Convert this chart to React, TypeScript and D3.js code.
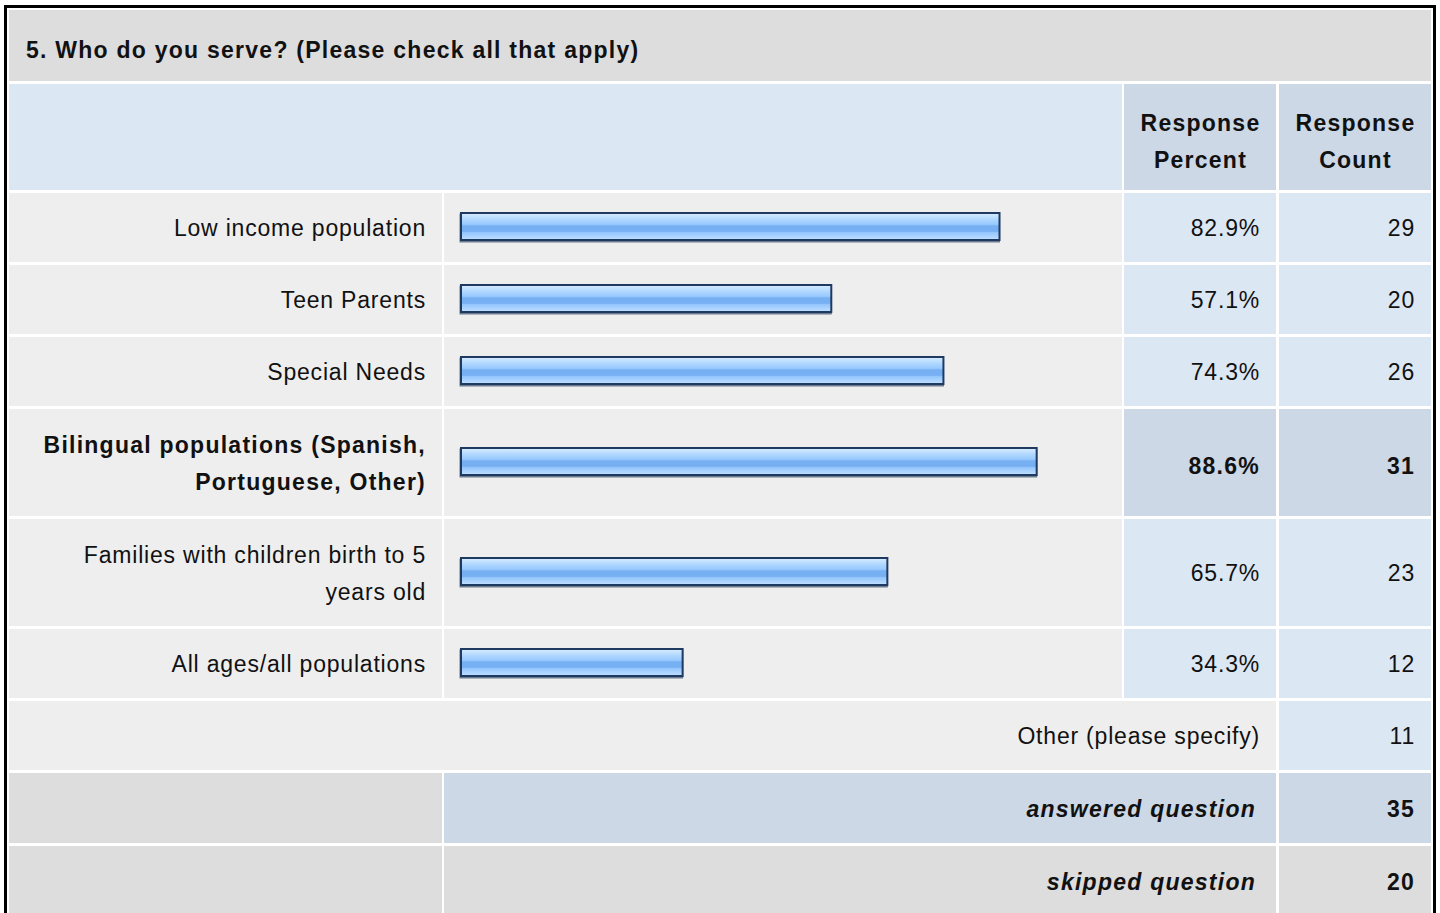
import React, { useEffect, useRef } from 'react'
import * as d3 from 'd3'

const title = '5. Who do you serve? (Please check all that apply)'
const headers = [['Response', 'Percent'], ['Response', 'Count']]
const answerLabels = [
  ['Low income population'],
  ['Teen Parents'],
  ['Special Needs'],
  ['Bilingual populations (Spanish,', 'Portuguese, Other)'],
  ['Families with children birth to 5', 'years old'],
  ['All ages/all populations'],
]
const percents = [82.9, 57.1, 74.3, 88.6, 65.7, 34.3]
const counts = [29, 20, 26, 31, 23, 12]
const otherLabel = 'Other (please specify)'
const otherCount = 11
const answeredCount = 35
const skippedCount = 20

const FONT = '"Liberation Sans", Arial, Helvetica, sans-serif'

export default function App() {
  const svgRef = useRef<SVGSVGElement>(null)

  useEffect(() => {
    const W = 1440, H = 913
    const svg = d3.select(svgRef.current)
    svg.selectAll('*').remove()
    svg.attr('width', W).attr('height', H)

    // column edges
    const c0 = [9, 442], c1 = [444, 1122], c2 = [1124, 1276], c3 = [1279, 1431]
    const gap = 3
    const single = 69, dbl = 107

    const x = d3.scaleLinear().domain([0, 100]).range([460, 1112])

    const defs = svg.append('defs')
    const grad = defs.append('linearGradient').attr('id', 'barGrad')
      .attr('x1', 0).attr('x2', 0).attr('y1', 0).attr('y2', 1)
    const stops: [number, string][] = [
      [0, '#d8ecff'], [0.12, '#c4e2ff'], [0.25, '#aed6ff'], [0.42, '#98c9ff'],
      [0.48, '#76aff2'], [0.68, '#76aff2'], [0.72, '#94c5fc'], [0.86, '#aad3ff'], [1, '#c2e0ff'],
    ]
    stops.forEach(([o, c]) => grad.append('stop').attr('offset', o).attr('stop-color', c))

    svg.append('rect').attr('width', W).attr('height', H).attr('fill', '#fff')

    const cell = (x0: number, x1: number, y0: number, y1: number, fill: string) =>
      svg.append('rect').attr('x', x0).attr('y', y0)
        .attr('width', x1 - x0).attr('height', y1 - y0).attr('fill', fill)

    const text = (t: string, xx: number, yy: number, anchor: string, bold = false, italic = false) =>
      svg.append('text').attr('x', xx).attr('y', yy)
        .attr('text-anchor', anchor)
        .style('font-family', FONT)
        .style('font-size', '23px')
        .style('font-weight', bold ? 'bold' : 'normal')
        .style('font-style', italic ? 'italic' : 'normal')
        .style('letter-spacing', bold ? '1.25px' : '0.8px')
        .attr('fill', '#111')
        .text(t)

    // title row
    cell(c0[0], c3[1], 10, 81, '#dddddd')
    text(title, 26, 57.5, 'start', true)

    // header row
    const hy0 = 84, hy1 = 190
    cell(c0[0], c1[1], hy0, hy1, '#dce7f4')
    cell(c2[0], c2[1], hy0, hy1, '#ccd8e5')
    cell(c3[0], c3[1], hy0, hy1, '#ccd8e5')
    headers.forEach((lines, i) => {
      const col = i === 0 ? c2 : c3
      const cx = (col[0] + col[1]) / 2
      lines.forEach((l, j) => text(l, cx + 0.5, 130.5 + j * 37, 'middle', true))
    })

    // answer rows
    let y = hy1 + gap
    const maxIdx = percents.indexOf(d3.max(percents) as number)
    answerLabels.forEach((lines, i) => {
      const h = lines.length > 1 ? dbl : single
      const y0 = y, y1 = y + h
      const cy = (y0 + y1) / 2
      const hi = i === maxIdx
      const valFill = hi ? '#ccd8e5' : '#dce7f4'
      cell(c0[0], c0[1], y0, y1, '#eeeeee')
      cell(c1[0], c1[1], y0, y1, '#eeeeee')
      cell(c2[0], c2[1], y0, y1, valFill)
      cell(c3[0], c3[1], y0, y1, valFill)

      lines.forEach((l, j) => {
        const off = (j - (lines.length - 1) / 2) * 37
        text(l, c0[1] - 16, cy + off + 8.5, 'end', hi)
      })

      // bar
      const by = cy - 15.5, bh = 29
      svg.append('rect')
        .attr('x', x(0) - 0.5).attr('y', by + 1.5)
        .attr('width', x(percents[i]) - x(0)).attr('height', bh)
        .attr('fill', '#6b7a8c')
      svg.append('rect')
        .attr('x', x(0) + 1).attr('y', by + 1)
        .attr('width', x(percents[i]) - x(0) - 2).attr('height', bh - 2)
        .attr('fill', 'url(#barGrad)')
        .attr('stroke', '#1e3a60').attr('stroke-width', 2)

      const vy = cy + (hi ? 11 : 8.5)
      text(d3.format('.1f')(percents[i]) + '%', c2[1] - 16, vy, 'end', hi)
      text(String(counts[i]), c3[1] - 16, vy, 'end', hi)
      y = y1 + gap
    })

    // other row
    let y0 = y, y1 = y + single
    cell(c0[0], c2[1], y0, y1, '#eeeeee')
    cell(c3[0], c3[1], y0, y1, '#dce7f4')
    text(otherLabel, c2[1] - 16, (y0 + y1) / 2 + 8.5, 'end')
    text(String(otherCount), c3[1] - 16, (y0 + y1) / 2 + 8.5, 'end')

    // answered row
    y0 = y1 + gap; y1 = y0 + single + 1
    cell(c0[0], c0[1], y0, y1, '#dddddd')
    cell(c1[0], c2[1], y0, y1, '#ccd8e5')
    cell(c3[0], c3[1], y0, y1, '#ccd8e5')
    text('answered question', c2[1] - 20, (y0 + y1) / 2 + 9, 'end', true, true)
    text(String(answeredCount), c3[1] - 16, (y0 + y1) / 2 + 9, 'end', true)

    // skipped row
    y0 = y1 + gap; y1 = y0 + single + 1
    cell(c0[0], c0[1], y0, H + 5, '#dddddd')
    cell(c1[0], c2[1], y0, H + 5, '#dddddd')
    cell(c3[0], c3[1], y0, H + 5, '#dddddd')
    text('skipped question', c2[1] - 20, (y0 + y1) / 2 + 9, 'end', true, true)
    text(String(skippedCount), c3[1] - 16, (y0 + y1) / 2 + 9, 'end', true)

    // outer frame
    svg.append('path')
      .attr('d', `M5.5,${H + 5} V6.5 H1434.5 V${H + 5}`)
      .attr('fill', 'none').attr('stroke', '#000').attr('stroke-width', 3)
  }, [])

  return (
    <svg ref={svgRef} style={{ position: 'absolute', left: 0, top: 0, display: 'block' }} />
  )
}
